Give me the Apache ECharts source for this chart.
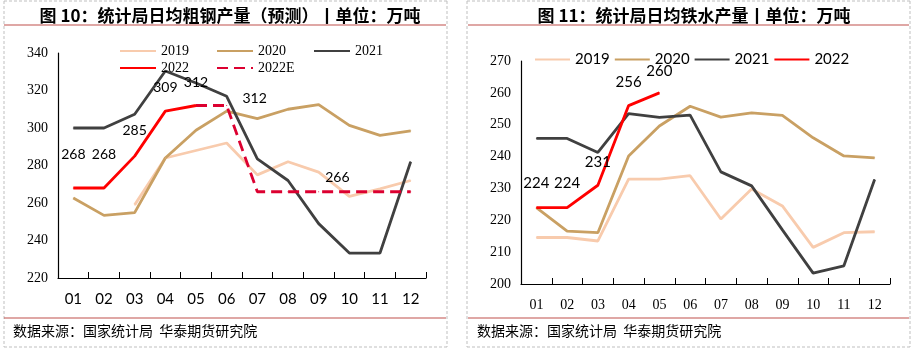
<!DOCTYPE html>
<html>
<head>
<meta charset="utf-8">
<script src="https://cdn.jsdelivr.net/npm/echarts@6/dist/echarts.min.js"></script>
<style>
  html, body { margin: 0; padding: 0; background: #fff; }
  #chart { width: 914px; height: 350px; }
</style>
</head>
<body>
<div id="chart"></div>
<script>
const months = ["01", "02", "03", "04", "05", "06", "07", "08", "09", "10", "11", "12"];

// 图10 粗钢
const steel2019 = [null, null, 259, 284, 288, 292, 275, 282, 276.5, 263.5, 267.5, 272];
const steel2020 = [262.7, 253.4, 254.9, 284, 298.8, 309, 305, 310, 312.5, 301.4, 296.1, 298.5];
const steel2021 = [300, 300, 307.3, 330.4, 324, 316.9, 283.5, 272, 249, 233.3, 233.3, 282];
const steel2022 = [268, 268, 285, 309, 312];
const steel2022E = [null, null, null, null, 312, 312, 266, 266, 266, 266, 266, 266];
const steelYTicks = { min: 220, max: 340, step: 20 };

// 图11 铁水
const iron2019 = [214.6, 214.6, 213.5, 232.9, 232.9, 234, 220.4, 229.8, 224.5, 211.5, 216.1, 216.4];
const iron2020 = [224, 216.6, 216.1, 240.2, 249.6, 255.8, 252.4, 253.7, 252.9, 245.9, 240.2, 239.6];
const iron2021 = [245.7, 245.7, 241.3, 253.5, 252.3, 253, 235.2, 230.8, 217, 203.4, 205.7, 232.8];
const iron2022 = [224, 224, 231, 256, 260];
const ironYTicks = { min: 200, max: 270, step: 10 };

const C19 = "#F8CBAD", C20 = "#C9A063", C21 = "#404040", C22 = "#FF0000", C22E = "#DC0030";
const serif = "Liberation Serif";
const sans = "Lato";
const cjk = "Noto Sans CJK SC";

function lineSeries(name, data, color, idx, extra) {
  return Object.assign({
    name: name,
    type: "line",
    xAxisIndex: idx,
    yAxisIndex: idx,
    data: data,
    symbol: "circle",
    symbolSize: 1,
    showSymbol: true,
    connectNulls: false,
    lineStyle: { color: color, width: 2.8 },
    itemStyle: { color: color },
    animation: false
  }, extra || {});
}

// per-point label placement (distance above point, x shift)
function labelled(values, places, fontSize) {
  return values.map((v, i) => {
    const p = places[i];
    if (v == null || !p) return v;
    return {
      value: v,
      label: {
        show: true, position: "top", distance: p[0], offset: [p[1], 0],
        color: "#000", fontFamily: sans, fontSize: fontSize,
        formatter: () => String(Math.round(v))
      }
    };
  });
}

function xAxis(idx, font, size) {
  return {
    type: "category", gridIndex: idx, data: months, boundaryGap: true,
    axisLine: { lineStyle: { color: "#000", width: 1.2 } },
    axisTick: { show: true, inside: true, length: 6, lineStyle: { color: "#000" } },
    axisLabel: { color: "#000", fontFamily: font, fontSize: size, margin: 14 },
    splitLine: { show: false }
  };
}
function yAxis(idx, t) {
  return {
    type: "value", gridIndex: idx, min: t.min, max: t.max, interval: t.step,
    axisLine: { show: true, lineStyle: { color: "#000", width: 1.2 } },
    axisTick: { show: false },
    axisLabel: { color: "#000", fontFamily: serif, fontSize: 14, margin: 10 },
    splitLine: { show: false }
  };
}

const chart = echarts.init(document.getElementById("chart"), null, { renderer: "canvas" });

const legendBase = { itemHeight: 14, itemStyle: { opacity: 0 } };
const option = {
  animation: false,
  title: [
    { text: "图 10：统计局日均粗钢产量（预测）丨单位：万吨", left: 225, top: 2, textAlign: "center",
      textStyle: { fontFamily: cjk, fontSize: 17, fontWeight: "bold", color: "#000" } },
    { text: "图 11：统计局日均铁水产量丨单位：万吨", left: 689, top: 2, textAlign: "center",
      textStyle: { fontFamily: cjk, fontSize: 17, fontWeight: "bold", color: "#000" } }
  ],
  legend: [
    Object.assign({ data: ["2019", "2020", "2021"], left: 114, top: 39, itemWidth: 36, itemGap: 27,
      textStyle: { fontFamily: serif, fontSize: 14, color: "#000" } }, legendBase),
    Object.assign({ data: ["2022", "2022E"], left: 114, top: 56, itemWidth: 36, itemGap: 27,
      textStyle: { fontFamily: serif, fontSize: 14, color: "#000" } }, legendBase),
    Object.assign({ data: ["2019", "2020", "2021", "2022"], left: 529, top: 47, itemWidth: 35, itemGap: 4,
      textStyle: { fontFamily: sans, fontSize: 15, color: "#000" } }, legendBase)
  ],
  grid: [
    { left: 58, top: 53, width: 368, height: 225 },
    { left: 521, top: 61, width: 369, height: 223 }
  ],
  xAxis: [xAxis(0, sans, 15), xAxis(1, serif, 14)],
  yAxis: [yAxis(0, steelYTicks), yAxis(1, ironYTicks)],
  series: [
    lineSeries("2019", steel2019, C19, 0),
    lineSeries("2020", steel2020, C20, 0),
    lineSeries("2021", steel2021, C21, 0),
    lineSeries("2022E", labelled(steel2022E, [null, null, null, null, null, [0, 28], null, null, null, [7, -12]], 14), C22E, 0,
      { lineStyle: { color: C22E, width: 2.8, type: [11, 6] } }),
    lineSeries("2022", labelled(steel2022, [[26, 0], [26, 0], [18, 0], [16, 0], [16, 0]], 14), C22, 0),
    lineSeries("2019", iron2019, C19, 1),
    lineSeries("2020", iron2020, C20, 1),
    lineSeries("2021", iron2021, C21, 1),
    lineSeries("2022", labelled(iron2022, [[16, 0], [16, 0], [15, 0], [15, 0], [14, 0]], 15), C22, 1)
  ],
  graphic: [
    // panel borders
    { type: "line", shape: { x1: 4, y1: 1, x2: 447, y2: 1 }, style: { stroke: "#BFBFBF", lineDash: [3, 2] } },
    { type: "line", shape: { x1: 4, y1: 1, x2: 4, y2: 347 }, style: { stroke: "#BFBFBF", lineDash: [3, 2] } },
    { type: "line", shape: { x1: 447, y1: 1, x2: 447, y2: 347 }, style: { stroke: "#BFBFBF", lineDash: [3, 2] } },
    { type: "line", shape: { x1: 4, y1: 347, x2: 447, y2: 347 }, style: { stroke: "#BFBFBF", lineDash: [3, 2] } },
    { type: "line", shape: { x1: 467, y1: 1, x2: 910, y2: 1 }, style: { stroke: "#BFBFBF", lineDash: [3, 2] } },
    { type: "line", shape: { x1: 467, y1: 1, x2: 467, y2: 347 }, style: { stroke: "#BFBFBF", lineDash: [3, 2] } },
    { type: "line", shape: { x1: 910, y1: 1, x2: 910, y2: 347 }, style: { stroke: "#BFBFBF", lineDash: [3, 2] } },
    { type: "line", shape: { x1: 467, y1: 347, x2: 910, y2: 347 }, style: { stroke: "#BFBFBF", lineDash: [3, 2] } },
    // red rules
    { type: "line", shape: { x1: 4, y1: 25, x2: 446, y2: 25 }, style: { stroke: "#C0504D", lineWidth: 1.2 } },
    { type: "line", shape: { x1: 468, y1: 25, x2: 909, y2: 25 }, style: { stroke: "#C0504D", lineWidth: 1.2 } },
    { type: "line", shape: { x1: 4, y1: 318, x2: 446, y2: 318 }, style: { stroke: "#C0504D", lineWidth: 1.2 } },
    { type: "line", shape: { x1: 468, y1: 318, x2: 909, y2: 318 }, style: { stroke: "#C0504D", lineWidth: 1.2 } },
    // sources
    { type: "text", left: 13, top: 324, style: { text: "数据来源：国家统计局  华泰期货研究院", font: "14px 'Noto Sans CJK SC'", fill: "#000" } },
    { type: "text", left: 477, top: 324, style: { text: "数据来源：国家统计局  华泰期货研究院", font: "14px 'Noto Sans CJK SC'", fill: "#000" } }
  ]
};
chart.setOption(option);
</script>
</body>
</html>
